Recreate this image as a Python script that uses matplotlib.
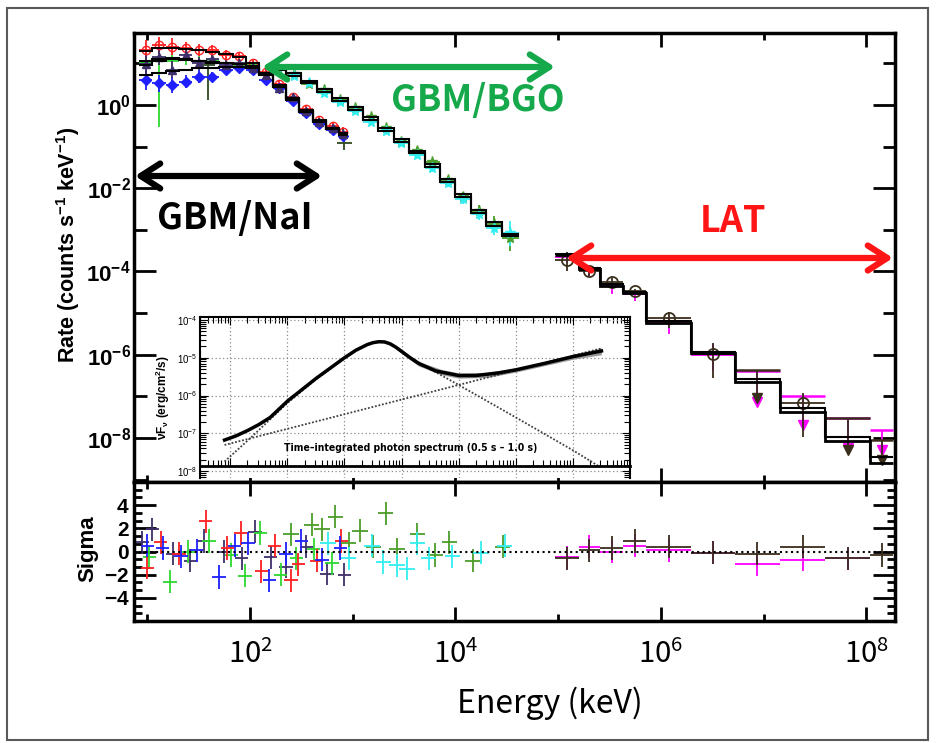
import numpy as np
import matplotlib.pyplot as plt
from matplotlib.ticker import FixedLocator, NullFormatter, MultipleLocator, LogLocator
from matplotlib.patches import Rectangle

plt.rcParams['mathtext.fontset'] = 'custom'
plt.rcParams['mathtext.rm'] = 'Noto Sans CJK JP'
plt.rcParams['mathtext.bf'] = 'Liberation Sans:bold'
plt.rcParams['mathtext.sf'] = 'Liberation Sans'
plt.rcParams['mathtext.it'] = 'Liberation Sans:italic'
plt.rcParams['font.family'] = ['Liberation Sans', 'DejaVu Sans']

# ---------------- data (log10 keV, log10 counts/s/keV) ----------------
# GBM NaI detectors
nai_edges = [0.92, 1.05, 1.18, 1.31, 1.44, 1.57, 1.70, 1.83, 1.96, 2.09,
             2.22, 2.35, 2.48, 2.61, 2.74, 2.87, 2.95]
nai_err = [0.25, 0.2, 0.2, 0.15, 0.15, 0.12, 0.12, 0.1, 0.1, 0.08,
           0.08, 0.08, 0.08, 0.09, 0.1, 0.12]
nai_red_rate = [1.32, 1.44, 1.40, 1.36, 1.32, 1.32, 1.20, 1.18, 1.00, 0.80,
                0.50, 0.20, -0.10, -0.35, -0.50, -0.65]
nai_grn_rate = [1.00, 1.12, 1.05, 1.10, 1.05, 1.08, 1.00, 0.95, 0.95, 0.78,
                0.42, 0.12, -0.12, -0.40, -0.52, -0.70]
nai_blu_rate = [0.60, 0.52, 0.48, 0.56, 0.68, 0.68, 0.84, 0.88, 0.85, 0.60,
                0.40, 0.10, -0.20, -0.45, -0.60, -0.75]
nai_ind_rate = [0.98, 1.15, 0.85, 1.20, 1.00, 1.10, 0.95, 1.00, 0.90, 0.72,
                0.40, 0.18, -0.15, -0.40, -0.55, -0.70]
nai_red_model = [1.30, 1.38, 1.38, 1.35, 1.32, 1.28, 1.22, 1.16, 1.02, 0.78,
                 0.48, 0.17, -0.13, -0.37, -0.55, -0.68]
nai_grn_model = [1.05, 1.10, 1.10, 1.08, 1.06, 1.04, 1.02, 0.99, 0.93, 0.75,
                 0.45, 0.15, -0.15, -0.38, -0.56, -0.70]
nai_blu_model = [0.72, 0.78, 0.82, 0.85, 0.88, 0.90, 0.92, 0.92, 0.88, 0.72,
                 0.43, 0.13, -0.17, -0.40, -0.58, -0.72]
nai_ind_model = [0.95, 1.05, 1.12, 1.10, 1.05, 1.02, 1.00, 0.98, 0.92, 0.74,
                 0.45, 0.14, -0.16, -0.39, -0.57, -0.70]
# a few extra dark points
nai_dk_x = [1.59, 2.92]
nai_dk_y = [0.96, -0.92]
nai_dk_lo = [0.85, 0.15]

# GBM BGO detectors
bgo_edges = [2.20, 2.35, 2.50, 2.65, 2.80, 2.95, 3.10, 3.25, 3.40, 3.55,
             3.70, 3.85, 4.00, 4.15, 4.30, 4.45, 4.62]
bgo_err = [0.05, 0.05, 0.05, 0.05, 0.05, 0.06, 0.06, 0.07, 0.07, 0.08,
           0.09, 0.1, 0.12, 0.14, 0.18, 0.3]
bgo0_rate = [0.88, 0.75, 0.50, 0.36, 0.12, -0.08, -0.30, -0.55, -0.90, -1.10,
             -1.38, -1.80, -2.20, -2.55, -2.85, -3.20]
bgo1_rate = [0.86, 0.70, 0.52, 0.30, 0.08, -0.15, -0.40, -0.62, -0.92, -1.20,
             -1.52, -1.88, -2.25, -2.62, -2.95, -3.08]
bgo0_model = [0.85, 0.70, 0.52, 0.32, 0.10, -0.12, -0.36, -0.62, -0.88, -1.15,
              -1.48, -1.85, -2.22, -2.60, -2.90, -3.15]
bgo1_model = [0.90, 0.76, 0.58, 0.38, 0.16, -0.06, -0.30, -0.56, -0.82, -1.10,
              -1.42, -1.78, -2.15, -2.52, -2.82, -3.10]

# LAT
lat_edges = [4.97, 5.20, 5.41, 5.63, 5.86, 6.29, 6.72, 7.16, 7.60, 8.04, 8.26]
lat0_model = [-3.60, -3.95, -4.35, -4.53, -5.23, -5.97, -6.65, -7.37, -8.08, -8.61]
lat1_model = [-3.57, -3.92, -4.30, -4.50, -5.20, -5.93, -6.58, -7.28, -7.98, -8.45]
latb_bins = [0, 1, 2, 3, 4, 5, 7]
latb_rate = [-3.73, -4.00, -4.25, -4.47, -5.13, -5.99, -7.17]
latb_lo = [0.27, 0.10, 0.15, 0.08, 0.24, 0.58, 0.80]
latb_hi = [0.20, 0.10, 0.10, 0.05, 0.16, 0.26, 0.24]
latb_ul_bins = [6, 8, 9]
latb_ul_top = [-6.37, -7.52, -8.05]
latb_ul_tip = [-7.05, -8.29, -8.53]
latm_bins = [0, 1, 2, 3, 4, 5]
latm_rate = [-3.65, -3.97, -4.35, -4.55, -5.25, -6.00]
latm_lo = [0.15, 0.15, 0.20, 0.15, 0.25, 0.40]
latm_hi = [0.10, 0.10, 0.10, 0.08, 0.12, 0.25]
latm_ul_bins = [6, 7, 8, 9]
latm_ul_top = [-6.40, -6.99, -7.53, -7.81]
latm_ul_tip = [-7.13, -7.69, -8.25, -8.30]

# residuals (log10 keV, sigma)
res_red_x = [1.00, 1.13, 1.31, 1.57, 1.78, 1.91, 2.11, 2.24, 2.40, 2.47, 2.65, 2.89]
res_red_y = [-1.4, 0.8, -0.2, 2.6, 0.3, 1.6, -1.7, 0.5, -2.5, -1.1, -0.8, 0.9]
res_blu_x = [1.00, 1.15, 1.33, 1.48, 1.70, 1.85, 1.98, 2.19, 2.35, 2.50, 2.70, 2.88]
res_blu_y = [0.5, 0.3, -0.4, 0.1, -2.2, 0.5, 0.7, -2.5, -0.2, 0.9, -0.7, 0.3]
res_grn_x = [1.02, 1.22, 1.40, 1.60, 1.82, 1.95, 2.10, 2.30, 2.45, 2.62, 2.80]
res_grn_y = [-0.5, -2.6, 0.0, 0.9, -0.3, -2.1, 1.6, -2.0, -0.6, 0.2, -1.0]
res_ind_x = [0.95, 1.05, 1.25, 1.42, 1.55, 1.75, 1.92, 2.05, 2.20, 2.35, 2.55, 2.75, 2.92]
res_ind_y = [0.8, 1.9, -0.2, -0.8, 0.9, 0.0, -0.6, 1.7, -0.5, -1.3, 0.4, -1.9, -2.0]
res_bgo0_x = [2.40, 2.60, 2.70, 2.83, 2.96, 3.07, 3.20, 3.32, 3.43, 3.63, 3.80, 3.94, 4.17, 4.46]
res_bgo0_y = [1.5, 2.3, 1.9, 3.0, 0.7, 1.8, 0.4, 3.3, 0.2, 1.5, -0.3, 0.8, -0.8, 0.4]
res_bgo1_x = [2.76, 2.96, 3.19, 3.30, 3.43, 3.53, 3.63, 3.74, 3.97, 4.25, 4.48]
res_bgo1_y = [0.7, -0.6, 0.5, -0.9, -1.2, -1.5, 0.7, -0.6, -0.4, -0.1, 0.5]
res_latb_y = [-0.6, 0.1, 0.3, 0.9, 0.4, -0.1, -0.2, 0.4, -0.6, -0.3]
res_latm_y = [-0.5, 0.4, 0.0, 0.5, 0.1, -0.1, -1.1, -0.7, -0.6]

# inset: nuFnu (log10 keV, log10 erg/cm2/s)
in_tot_x = [0.9, 1.1, 1.3, 1.5, 1.7, 2.0, 2.5, 3.0, 3.2, 3.4, 3.5, 3.6, 3.7, 3.8,
            3.9, 4.0, 4.15, 4.3, 4.6, 5.0, 5.3, 5.7, 6.0, 6.5, 7.0, 7.5]
in_tot_y = [-7.18, -7.07, -6.93, -6.77, -6.58, -6.15, -5.55, -5.0, -4.8, -4.65,
            -4.6, -4.575, -4.58, -4.63, -4.72, -4.83, -5.0, -5.15, -5.35, -5.47,
            -5.47, -5.4, -5.32, -5.15, -4.97, -4.82]
in_env_x = [3.9, 4.3, 4.7, 5.0, 5.5, 6.0, 6.5, 7.0, 7.5]
in_env_hi = [-4.68, -5.10, -5.31, -5.40, -5.39, -5.27, -5.10, -4.91, -4.74]
in_env_lo = [-4.77, -5.22, -5.45, -5.54, -5.52, -5.38, -5.21, -5.04, -4.92]
in_band_x = [0.9, 1.35, 2.0, 2.5, 3.0, 3.2, 3.4, 3.5, 3.6, 3.7, 3.8, 3.9, 4.0,
             4.5, 5.0, 6.0, 7.0, 7.45]
in_band_y = [-7.75, -7.13, -6.2, -5.57, -5.02, -4.81, -4.66, -4.61, -4.585, -4.59,
             -4.64, -4.73, -4.85, -5.3, -5.72, -6.58, -7.45, -7.87]
in_pl_x = [0.9, 7.5]
in_pl_y = [-7.31, -4.75]

# ---------------- colours ----------------
RED = '#ff2020'
GRN = '#2fd82f'
BLU = '#1f1fff'
IND = '#3f2f6a'
DKG = '#2e4a20'
BGOG = '#4a9e2a'
CYA = '#33eef0'
BRN = '#3a2e1c'
MAG = '#ff00ff'

W, H = 936, 743
fig = plt.figure(figsize=(W / 100, H / 100), dpi=100)


def box(l, t, r, b):
    return [l / W, 1 - b / H, (r - l) / W, (b - t) / H]


ax = fig.add_axes(box(133.5, 33, 895, 482))
ax2 = fig.add_axes(box(133.5, 482, 895, 621), sharex=ax)
axin = fig.add_axes(box(200, 317, 630, 478))
ax.set_zorder(1)
axin.set_zorder(2)
ax2.set_zorder(3)


def draw_set(edges, rate, err, color, marker, ms=5, mfc=None, lo=None):
    e = np.array(edges)
    xl, xh = 10 ** e[:-1], 10 ** e[1:]
    xc = 10 ** ((e[:-1] + e[1:]) / 2)
    y = 10 ** np.array(rate)
    el = np.array(err if lo is None else lo)
    eh = np.array(err)
    ax.errorbar(xc, y, xerr=[xc - xl, xh - xc], yerr=[y - y * 10 ** -el, y * 10 ** eh - y],
                fmt=marker, color=color, ms=ms, mfc=mfc if mfc else color,
                mec=color, lw=1.3, capsize=0, zorder=2)


def stairs(edges, vals, lw=1.5):
    ax.stairs(10 ** np.array(vals), 10 ** np.array(edges), color='k', lw=lw,
              baseline=None, zorder=3)


# NaI
grn_lo = list(nai_err)
grn_lo[1] = 1.65
draw_set(nai_edges, nai_grn_rate, nai_err, GRN, 'none', lo=grn_lo)
draw_set(nai_edges, nai_red_rate, nai_err, RED, 'o', ms=6, mfc='none')
draw_set(nai_edges, nai_blu_rate, nai_err, BLU, 'D', ms=5)
draw_set(nai_edges, nai_ind_rate, nai_err, IND, '^', ms=6)
dx = 10 ** np.array(nai_dk_x)
dy = 10 ** np.array(nai_dk_y)
ax.errorbar(dx, dy, xerr=[dx - dx / 10 ** 0.07, dx * 10 ** 0.07 - dx],
            yerr=[dy - dy / 10 ** np.array(nai_dk_lo), dy * 10 ** 0.08 - dy],
            fmt='none', color=DKG, lw=1.3, zorder=2)
for m in (nai_red_model, nai_grn_model, nai_blu_model, nai_ind_model):
    stairs(nai_edges, m)

# BGO
draw_set(bgo_edges, bgo0_rate, bgo_err, BGOG, '*', ms=8)
draw_set(bgo_edges, bgo1_rate, bgo_err, CYA, '*', ms=8)
stairs(bgo_edges, bgo0_model)
stairs(bgo_edges, bgo1_model)

# LAT
le = np.array(lat_edges)
lat_c = (le[:-1] + le[1:]) / 2


def lat_points(bins, rate, lo, hi, color, marker, mfc):
    b = np.array(bins)
    xc = 10 ** lat_c[b]
    y = 10 ** np.array(rate)
    ax.errorbar(xc, y, xerr=[xc - 10 ** le[b], 10 ** le[b + 1] - xc],
                yerr=[y - y / 10 ** np.array(lo), y * 10 ** np.array(hi) - y],
                fmt=marker, color=color, mfc=mfc, mec=color, ms=8, mew=1.3,
                lw=1.3, capsize=0, zorder=2)


def lat_uls(bins, top, tip, color):
    b = np.array(bins)
    xc = 10 ** lat_c[b]
    ax.hlines(10 ** np.array(top), 10 ** le[b], 10 ** le[b + 1], color=color, lw=1.8, zorder=2)
    ax.vlines(xc, 10 ** np.array(tip), 10 ** np.array(top), color=color, lw=1.3, zorder=2)
    ax.plot(xc, 10 ** np.array(tip), 'v', color=color, ms=7, zorder=2)


lat_points(latm_bins, latm_rate, latm_lo, latm_hi, MAG, 'none', 'none')
lat_uls(latm_ul_bins, latm_ul_top, latm_ul_tip, MAG)
stairs(lat_edges, lat1_model)
stairs(lat_edges, lat0_model, lw=2)
lat_points(latb_bins, latb_rate, latb_lo, latb_hi, BRN, 'o', 'none')
lat_uls(latb_ul_bins, latb_ul_top, latb_ul_tip, BRN)

# axes style
for a in (ax, ax2):
    a.set_xscale('log')
    for s in a.spines.values():
        s.set_linewidth(2.5)
ax.set_yscale('log')
ax.set_xlim(10 ** 0.866, 10 ** 8.28)
ax.set_ylim(10 ** -9.06, 10 ** 1.73)
ax.xaxis.set_major_locator(FixedLocator(10.0 ** np.array([2, 4, 6, 8])))
ax.xaxis.set_minor_locator(FixedLocator(10.0 ** np.array([1, 3, 5, 7])))
ax.xaxis.set_minor_formatter(NullFormatter())
ax.yaxis.set_major_locator(FixedLocator(10.0 ** np.array([0, -2, -4, -6, -8])))
ax.yaxis.set_minor_locator(FixedLocator(10.0 ** np.array([1, -1, -3, -5, -7, -9])))
ax.yaxis.set_minor_formatter(NullFormatter())
ax.set_yticklabels([r'$\mathbf{10^{%d}}$' % p for p in [0, -2, -4, -6, -8]])
ax.tick_params(axis='both', which='both', direction='in', top=True, right=True,
               labelbottom=False, width=2)
ax.tick_params(axis='x', which='major', length=10)
ax.tick_params(axis='x', which='minor', length=5)
ax.tick_params(axis='y', which='major', length=16, labelsize=16, pad=2)
ax.tick_params(axis='y', which='minor', length=9)


# residual panel
def resid(xs, ys, color, half):
    x = 10 ** np.array(xs)
    ax2.errorbar(x, ys, xerr=[x - x / 10 ** half, x * 10 ** half - x], yerr=1.0,
                 fmt='none', color=color, lw=1.3, capsize=0)


resid(res_ind_x, res_ind_y, IND, 0.065)
resid(res_grn_x, res_grn_y, GRN, 0.065)
resid(res_red_x, res_red_y, RED, 0.065)
resid(res_blu_x, res_blu_y, BLU, 0.065)
resid(res_bgo0_x, res_bgo0_y, BGOG, 0.075)
resid(res_bgo1_x, res_bgo1_y, CYA, 0.075)
nm = len(res_latm_y)
xm = 10 ** lat_c[:nm]
ax2.errorbar(xm, res_latm_y, xerr=[xm - 10 ** le[:nm], 10 ** le[1:nm + 1] - xm],
             yerr=1.0, fmt='none', color=MAG, lw=1.3, capsize=0)
xb = 10 ** lat_c
ax2.errorbar(xb, res_latb_y, xerr=[xb - 10 ** le[:-1], 10 ** le[1:] - xb],
             yerr=1.0, fmt='none', color=BRN, lw=1.3, capsize=0)
ax2.axhline(0, color='k', ls=':', lw=1.5)
ax2.set_ylim(-6, 6)
ax2.yaxis.set_major_locator(FixedLocator([-4, -2, 0, 2, 4]))
ax2.yaxis.set_minor_locator(MultipleLocator(2 / 3))
ax2.set_yticklabels([r'$\mathbf{-4}$', r'$\mathbf{-2}$', r'$\mathbf{0}$', r'$\mathbf{2}$', r'$\mathbf{4}$'])
ax2.tick_params(axis='both', which='both', direction='in', top=True, right=True, width=2)
ax2.tick_params(axis='x', which='major', length=10, labelsize=21, pad=13)
ax2.tick_params(axis='x', which='minor', length=5)
ax2.tick_params(axis='y', which='major', length=16, labelsize=15, pad=3)
ax2.tick_params(axis='y', which='minor', length=6)
ax2.set_xticklabels([r'$10^{%d}$' % p for p in [2, 4, 6, 8]])

# inset
axin.set_xscale('log')
axin.set_yscale('log')
axin.set_xlim(10 ** 0.47, 10 ** 8.0)
axin.set_ylim(10 ** -8.185, 10 ** -3.92)
axin.fill_between(10 ** np.array(in_env_x), 10 ** np.array(in_env_lo), 10 ** np.array(in_env_hi),
                  color='0.6', lw=0)
axin.plot(10 ** np.array(in_band_x), 10 ** np.array(in_band_y), color='0.25', lw=1.3, ls=(0, (1, 1)))
axin.plot(10 ** np.array(in_pl_x), 10 ** np.array(in_pl_y), color='0.25', lw=1.3, ls=(0, (1, 1)))
axin.plot(10 ** np.array(in_tot_x), 10 ** np.array(in_tot_y), color='k', lw=2.5)
axin.xaxis.set_major_locator(FixedLocator(10.0 ** np.arange(1, 8)))
axin.xaxis.set_minor_locator(LogLocator(subs=np.arange(2, 10), numticks=20))
axin.yaxis.set_major_locator(FixedLocator(10.0 ** np.arange(-8, -3)))
axin.yaxis.set_minor_locator(LogLocator(subs=np.arange(2, 10), numticks=20))
axin.xaxis.set_minor_formatter(NullFormatter())
axin.yaxis.set_minor_formatter(NullFormatter())
axin.set_yticklabels([r'$\mathsf{10^{%d}}$' % p for p in range(-8, -3)])
axin.grid(True, which='major', color='0.55', ls=(0, (1, 2)), lw=0.9)
axin.spines['bottom'].set_position(('data', 10 ** -7.87))
axin.spines['bottom'].set_linewidth(2)
for s in ('left', 'right', 'top'):
    axin.spines[s].set_linewidth(1.5)
axin.tick_params(axis='both', which='both', direction='in', top=True, right=True,
                 labelbottom=False, width=0.8)
axin.tick_params(axis='both', which='major', length=6, labelsize=7, pad=2)
axin.tick_params(axis='both', which='minor', length=4)
axin.set_ylabel(r'$\mathbf{\nu F_{\nu}}$ (erg/cm$^{\mathbf{2}}$/s)', fontsize=8.5,
                fontweight='bold', labelpad=3)
axin.text(10 ** 4.16, 10 ** -7.39, 'Time\u2013integrated photon spectrum (0.5 s \u2013 1.0 s)',
          ha='center', va='center', fontsize=7.5, fontweight='bold',
          family=['Liberation Sans Narrow', 'DejaVu Sans'], fontstretch='condensed')

# axis labels
fig.text(68 / W, 1 - 245 / H, r'Rate (counts s$^{\mathbf{-1}}$ keV$^{\mathbf{-1}}$)', rotation=90,
         ha='center', va='center', fontsize=15.5, fontweight='bold')
fig.text(88 / W, 1 - 549 / H, 'Sigma', rotation=90, ha='center', va='center',
         fontsize=16, fontweight='bold')
fig.text(550 / W, 1 - 703 / H, 'Energy (keV)', ha='center', va='center', fontsize=23,
         family=['Noto Sans CJK JP', 'DejaVu Sans'])


# instrument ranges
def span(x0, x1, y, color):
    ax.annotate('', xy=(x1, H - y), xytext=(x0, H - y), xycoords='figure pixels',
                textcoords='figure pixels', annotation_clip=False,
                arrowprops=dict(arrowstyle='<->,head_length=1.4,head_width=0.9',
                                lw=4.5, color=color, shrinkA=0, shrinkB=0))


span(262, 555, 67, '#15a94c')
span(135, 322, 176, 'k')
span(566, 893, 258, '#ff1515')
tkw = dict(ha='center', va='center', fontsize=26, family=['Noto Sans CJK JP', 'DejaVu Sans'],
           fontweight='bold')
fig.text(478 / W, 1 - 100 / H, 'GBM/BGO', color='#15a94c', **tkw)
fig.text(235 / W, 1 - 218 / H, 'GBM/NaI', color='k', **tkw)
fig.text(733 / W, 1 - 222 / H, 'LAT', color='#ff1515', **tkw)

fig.patches.append(Rectangle((7 / W, 3 / H), 921 / W, 732 / H, transform=fig.transFigure,
                             fill=False, ec='0.35', lw=1.5))

fig.savefig('out.png', dpi=100)
